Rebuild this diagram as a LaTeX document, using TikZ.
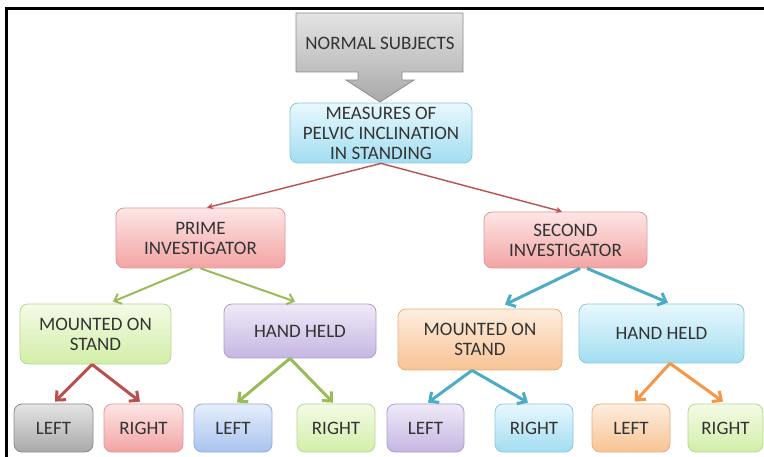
\documentclass[tikz,border=0pt]{standalone}
\usepackage{fontspec}
\setmainfont{Carlito}
\usetikzlibrary{arrows.meta,calc}
\definecolor{txt}{HTML}{333333}
\definecolor{lnred}{HTML}{B9504E}
\definecolor{lngreen}{HTML}{9BBB59}
\definecolor{lnteal}{HTML}{4BACC6}
\definecolor{lnorange}{HTML}{F79646}
\definecolor{cyT}{HTML}{E8F8FD}\definecolor{cyB}{HTML}{A2DDF1}\definecolor{cyD}{HTML}{8CC8DC}
\definecolor{pkT}{HTML}{FDE6E6}\definecolor{pkB}{HTML}{F3A3A3}\definecolor{pkD}{HTML}{E09A9A}
\definecolor{grT}{HTML}{F4FBE6}\definecolor{grB}{HTML}{D2EEA8}\definecolor{grD}{HTML}{B8D890}
\definecolor{puT}{HTML}{EFEAF7}\definecolor{puB}{HTML}{C5B6E2}\definecolor{puD}{HTML}{AD9FCE}
\definecolor{orT}{HTML}{FDEEDF}\definecolor{orB}{HTML}{F8C394}\definecolor{orD}{HTML}{E6B080}
\definecolor{blT}{HTML}{E6EEFB}\definecolor{blB}{HTML}{A9C3EF}\definecolor{blD}{HTML}{95AED8}
\definecolor{gyT}{HTML}{E4E4E4}\definecolor{gyB}{HTML}{A9A9A9}\definecolor{gyD}{HTML}{8C8C8C}
\tikzset{
  box/.style={rectangle, rounded corners=8pt, draw=#1, line width=0.8pt, inner sep=0pt, align=center, text=txt,
    font=\fontsize{19}{20}\selectfont},
  gray box/.style={box=gyD, top color=gyT, bottom color=gyB},
  cyan box/.style={box=cyD, top color=cyT, bottom color=cyB},
  pink box/.style={box=pkD, top color=pkT, bottom color=pkB},
  green box/.style={box=grD, top color=grT, bottom color=grB},
  purple box/.style={box=puD, top color=puT, bottom color=puB},
  orange box/.style={box=orD, top color=orT, bottom color=orB},
  blue box/.style={box=blD, top color=blT, bottom color=blB},
  arrthin/.style={draw=lnred, line width=1.4pt, -{Stealth[length=6pt,width=6pt]}},
  arrmid/.style={draw=lngreen, line width=2pt, -{Straight Barb[length=6pt,width=11pt]}},
  arrthick/.style={draw=#1, line width=3pt, -{Straight Barb[length=7pt,width=13pt]}},
}
\begin{document}
\begin{tikzpicture}[x=1pt,y=-1pt]
\useasboundingbox (0,0) rectangle (764,457);
\fill[white] (0,0) rectangle (764,457);
% frame
\draw[line width=3pt] (6,457) -- (6,9) -- (764,9);
% normal subjects arrow box
\path[draw=gyD, line width=0.8pt, top color=gyT, bottom color=gyB]
  (296,13) -- (463,13) -- (463,72) -- (402,72) -- (402,80) -- (414,80) -- (380,102)
  -- (346,80) -- (358,80) -- (358,72) -- (296,72) -- cycle;
\node[text=txt, font=\fontsize{19}{20}\selectfont] (ns) at (380,43) {NORMAL SUBJECTS};
% boxes
\node[cyan box, minimum width=182pt, minimum height=60pt] (meas) at (381,133) {MEASURES OF\\PELVIC INCLINATION\\IN STANDING};
\node[pink box, minimum width=169pt, minimum height=60pt] (prime) at (200.5,238) {PRIME\\INVESTIGATOR};
\node[pink box, minimum width=163pt, minimum height=56pt] (second) at (565.5,240) {SECOND\\INVESTIGATOR};
\node[green box, minimum width=151pt, minimum height=60pt] (mgreen) at (95.5,334) {MOUNTED ON\\STAND};
\node[purple box, minimum width=152pt, minimum height=54pt] (hpurple) at (300,331) {HAND HELD};
\node[orange box, minimum width=164pt, minimum height=61pt] (morange) at (480,339.5) {MOUNTED ON\\STAND};
\node[cyan box, minimum width=165pt, minimum height=59pt] (hcyan) at (661.5,333.5) {HAND HELD};
\node[gray box, minimum width=79pt, minimum height=48pt] (l1) at (53.5,428) {LEFT};
\node[pink box, minimum width=79pt, minimum height=48pt] (r1) at (143.5,428) {RIGHT};
\node[blue box, minimum width=78pt, minimum height=48pt] (l2) at (233,428) {LEFT};
\node[green box, minimum width=78pt, minimum height=48pt] (r2) at (336,428) {RIGHT};
\node[purple box, minimum width=77pt, minimum height=48pt] (l3) at (425.5,428) {LEFT};
\node[cyan box, minimum width=78pt, minimum height=48pt] (r3) at (534,428) {RIGHT};
\node[orange box, minimum width=78pt, minimum height=48pt] (l4) at (631,428) {LEFT};
\node[green box, minimum width=75pt, minimum height=48pt] (r4) at (725.5,428) {RIGHT};
% connectors
\draw[arrthin] (meas.south) -- ($(prime.north)+(6.5,0)$);
\draw[arrthin] (meas.south) -- ($(second.north)+(-3.5,0)$);
\draw[arrmid] ($(prime.south)+(-8,0)$) -- ($(mgreen.north)+(17.5,-2)$);
\draw[arrmid] ($(prime.south)+(0,0)$) -- ($(hpurple.north)+(-5,-2)$);
\draw[arrthick=lnred] ($(mgreen.south)+(-3.5,0)$) -- ($(l1.north)+(1.5,-2)$);
\draw[arrthick=lnred] ($(mgreen.south)+(-3.5,0)$) -- ($(r1.north)+(-3.5,-2)$);
\draw[arrthick=lngreen] ($(hpurple.south)+(-10,0)$) -- ($(l2.north)+(4,-1)$);
\draw[arrthick=lngreen] ($(hpurple.south)+(-10,0)$) -- ($(r2.north)+(-3,-1)$);
\draw[arrthick=lnteal] ($(second.south)+(14.5,0)$) -- ($(morange.north)+(25,-4)$);
\draw[arrthick=lnteal] ($(second.south)+(21.5,0)$) -- ($(hcyan.north)+(6.5,-1)$);
\draw[arrthick=lnteal] ($(morange.south)+(-8,0)$) -- ($(l3.north)+(2.5,-1)$);
\draw[arrthick=lnteal] ($(morange.south)+(-8,0)$) -- ($(r3.north)+(-6,-1)$);
\draw[arrthick=lnorange] ($(hcyan.south)+(8.5,0)$) -- ($(l4.north)+(4,-2)$);
\draw[arrthick=lnorange] ($(hcyan.south)+(8.5,0)$) -- ($(r4.north)+(-2.5,-2)$);
\end{tikzpicture}
\end{document}
